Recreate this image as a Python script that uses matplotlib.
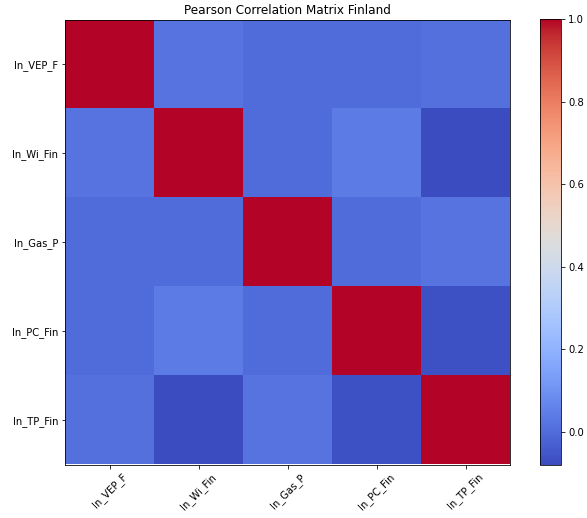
import numpy as np
import matplotlib
matplotlib.use("Agg")
import matplotlib.pyplot as plt

labels = ["ln_VEP_F", "ln_Wi_Fin", "ln_Gas_P", "ln_PC_Fin", "ln_TP_Fin"]

# pairwise Pearson coefficients (upper triangle, row by row)
r_vep = [0.02, 0.00, 0.00, 0.01]
r_wi = [0.00, 0.04, -0.08]
r_gas = [0.00, 0.02]
r_pc = [-0.065]

n = len(labels)
corr = np.eye(n)
for i, row in enumerate([r_vep, r_wi, r_gas, r_pc]):
    for k, val in enumerate(row):
        j = i + 1 + k
        corr[i, j] = val
        corr[j, i] = val

fig = plt.figure(figsize=(587 / 72, 518 / 72), dpi=72)
ax = fig.add_axes([65 / 587, 53 / 518, 445 / 587, 446 / 518])
cax = fig.add_axes([540 / 587, 53 / 518, 21 / 587, 446 / 518])

im = ax.imshow(corr, cmap="coolwarm", interpolation="nearest")
fig.colorbar(im, cax=cax)

ax.set_xticks(range(n))
ax.set_xticklabels(labels, rotation=45)
ax.set_yticks(range(n))
ax.set_yticklabels(labels)
ax.set_title("Pearson Correlation Matrix Finland")

fig.savefig("out.png", dpi=72)
